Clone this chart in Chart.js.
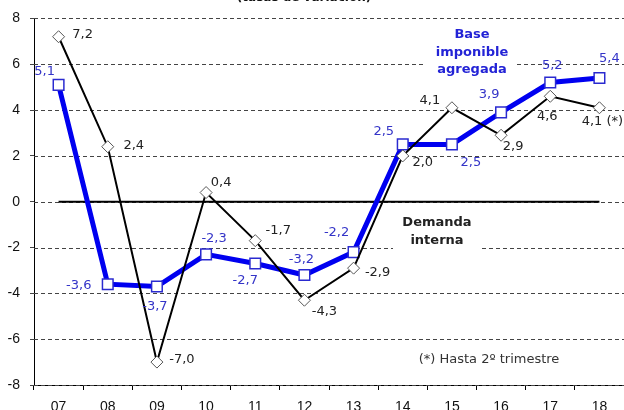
<!DOCTYPE html>
<html>
<head>
<meta charset="utf-8">
<script src="https://cdn.jsdelivr.net/npm/chart.js@4/dist/chart.umd.min.js"></script>
<style>
  html, body { margin: 0; padding: 0; background: #fff; overflow: hidden; }
</style>
</head>
<body>
<canvas id="my" width="624" height="410"></canvas>
<script>
// años (eje X)
const years = ['07', '08', '09', '10', '11', '12', '13', '14', '15', '16', '17', '18'];
// Base imponible agregada (azul)
const baseImponible = [5.1, -3.6, -3.7, -2.3, -2.7, -3.2, -2.2, 2.5, 2.5, 3.9, 5.2, 5.4];
// Demanda interna (negro)
const demandaInterna = [7.2, 2.4, -7.0, 0.4, -1.7, -4.3, -2.9, 2.0, 4.1, 2.9, 4.6, 4.1];
const zeroLine = years.map(() => 0);
const yTicks = [-8, -6, -4, -2, 0, 2, 4, 6, 8];

// desplazamiento de las etiquetas de valor (px, respecto al punto)
const bluePos = [[-14,-13],[-29,1],[-2,20],[8,-16],[-10,17],[-3,-15],[-17,-19],[-19,-13],[19,18],[-12,-18],[2,-17],[10,-19]];
const blackPos = [[24,-2],[26,-1],[25,-2],[15,-10],[23,-10],[20,11],[24,4],[20,7],[-22,-7],[12,11],[-3,20],[3,14]];

const fmt = v => v.toFixed(1).replace('.', ',');

const notes = {
  id: 'notes',
  beforeDatasetsDraw(chart) {
    const c = chart.ctx;
    const y = chart.scales.y;
    const area = chart.chartArea;
    c.save();
    // rejilla discontinua
    c.strokeStyle = '#444';
    c.lineWidth = 1;
    c.setLineDash([4, 3]);
    yTicks.forEach(v => {
      const py = Math.round(y.getPixelForValue(v)) + 0.5;
      c.beginPath();
      c.moveTo(area.left, py);
      c.lineTo(chart.width, py);
      c.stroke();
    });
    c.setLineDash([]);
    c.fillStyle = '#fff';
    c.fillRect(425, 26, 92, 54);
    c.fillRect(393, 213, 89, 38);
    c.textAlign = 'center';
    c.textBaseline = 'middle';
    c.font = 'bold 13px "DejaVu Sans"';
    c.fillStyle = '#2323d6';
    c.fillText('Base', 472, 35);
    c.fillText('imponible', 472, 53);
    c.fillText('agregada', 472, 70);
    c.fillStyle = '#222';
    c.fillText('Demanda', 437, 223);
    c.fillText('interna', 437, 241);
    c.font = '13px "DejaVu Sans"';
    c.fillStyle = '#333';
    c.fillText('(*) Hasta 2º trimestre', 489, 360);
    c.font = 'bold 12px "DejaVu Sans"';
    c.textBaseline = 'alphabetic';
    c.fillStyle = '#111';
    c.fillText('(tasas de variación)', 304, 1);
    c.restore();
  },
  afterDatasetsDraw(chart) {
    const c = chart.ctx;
    c.save();
    c.font = '13px "DejaVu Sans"';
    c.textAlign = 'center';
    c.textBaseline = 'middle';
    const draw = (dsIndex, values, pos, color, lastSuffix) => {
      const meta = chart.getDatasetMeta(dsIndex);
      c.fillStyle = color;
      meta.data.forEach((p, i) => {
        let t = fmt(values[i]);
        if (lastSuffix && i === values.length - 1) t += lastSuffix;
        c.fillText(t, p.x + pos[i][0], p.y + pos[i][1]);
      });
    };
    draw(1, baseImponible, bluePos, '#3434c8', '');
    draw(0, demandaInterna, blackPos, '#222', ' (*)');
    c.restore();
  }
};

new Chart(document.getElementById('my'), {
  type: 'line',
  data: {
    labels: years,
    datasets: [
      {
        data: demandaInterna,
        borderColor: '#000',
        borderWidth: 2,
        pointStyle: 'rectRot',
        pointRadius: 6,
        pointBackgroundColor: '#fff',
        pointBorderColor: '#555',
        pointBorderWidth: 1,
        tension: 0,
        order: 1
      },
      {
        data: baseImponible,
        borderColor: '#0000f0',
        borderWidth: 5,
        pointStyle: 'rect',
        pointRadius: 7.5,
        pointBackgroundColor: '#fff',
        pointBorderColor: '#2a2ad0',
        pointBorderWidth: 1.5,
        tension: 0,
        order: 2
      },
      {
        data: zeroLine,
        borderColor: '#000',
        borderWidth: 2,
        pointRadius: 0,
        order: 3
      }
    ]
  },
  options: {
    responsive: false,
    animation: false,
    layout: { autoPadding: false, padding: { left: 0, top: 16, right: 0, bottom: 0 } },
    plugins: { legend: { display: false }, tooltip: { enabled: false }, title: { display: false } },
    scales: {
      x: {
        offset: true,
        afterFit(axis) { axis.height = 25; axis.paddingLeft = 0; axis.paddingRight = 0; },
        grid: { offset: true, drawOnChartArea: false, drawTicks: true, tickLength: 5, color: '#000' },
        border: { color: '#000', width: 1 },
        ticks: { color: '#111', padding: 9, font: { family: 'Liberation Sans', size: 14 }, maxRotation: 0 }
      },
      y: {
        min: -8,
        max: 8,
        afterBuildTicks(axis) { axis.ticks = yTicks.map(v => ({ value: v })); },
        afterFit(axis) { axis.width = 34; },
        grid: { color: '#444', tickLength: 4, lineWidth: 1, drawOnChartArea: false },
        border: { color: '#000', width: 1, dash: [4, 3] },
        ticks: { color: '#111', padding: 10, font: { family: 'Liberation Sans', size: 14 } }
      }
    }
  },
  plugins: [notes]
});
</script>
</body>
</html>
